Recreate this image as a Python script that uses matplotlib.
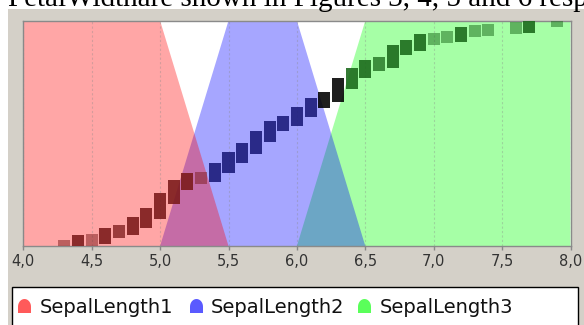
import numpy as np
import matplotlib
matplotlib.use("Agg")
import matplotlib.pyplot as plt
from matplotlib.patches import Rectangle, Polygon
from matplotlib.colors import to_rgba
from matplotlib.ticker import FuncFormatter

# Distinct sepal length values and how many samples share each value
sepal_values = [4.3, 4.4, 4.5, 4.6, 4.7, 4.8, 4.9, 5.0, 5.1, 5.2, 5.3,
                5.4, 5.5, 5.6, 5.7, 5.8, 5.9, 6.0, 6.1,
                6.2, 6.3,
                6.4, 6.5, 6.6, 6.7, 6.8, 6.9, 7.0, 7.1, 7.2, 7.3, 7.4, 7.6, 7.7, 7.9]
sepal_counts = [1, 3, 1, 4, 2, 5, 6, 10, 9, 4, 1,
                6, 7, 6, 8, 7, 3, 6, 6,
                4, 9,
                7, 5, 2, 8, 3, 4, 1, 1, 3, 1, 1, 1, 4, 1]
# Class shown for each distinct value: 0 = set 1, 1 = set 2, 2 = set 3, 3 = boundary
value_class = [0] * 11 + [1] * 8 + [3] * 2 + [2] * 14

# Fuzzy set shapes (trapezoid breakpoints) for the three linguistic terms
set_names = ["SepalLength1", "SepalLength2", "SepalLength3"]
set_x = [[4.0, 4.0, 5.0, 5.5],
         [5.0, 5.5, 6.0, 6.5],
         [6.0, 6.5, 8.0, 8.0]]
set_y = [[0.0, 1.0, 1.0, 0.0],
         [0.0, 1.0, 1.0, 0.0],
         [0.0, 1.0, 1.0, 0.0]]

x_ticks = [4.0, 4.5, 5.0, 5.5, 6.0, 6.5, 7.0, 7.5, 8.0]

fill_colors = ["#ff0000", "#0000ff", "#00ff00"]
legend_colors = ["#ff5a5a", "#5a5aff", "#5aff5a"]
# indexed by value_class: set 1, set 2, set 3, boundary
point_colors = ["#7a1919", "#191978", "#196819", "#000000"]

W, H = 584, 325
fig = plt.figure(figsize=(W / 100, H / 100), dpi=100)
fig.patch.set_facecolor("white")


def fx(px):
    return px / W


def fy(py):
    return 1 - py / H


# panel background
fig.patches.append(Rectangle((fx(8), 0), 1 - fx(8), fy(9), transform=fig.transFigure,
                             facecolor="#d4d0c8", edgecolor="none", zorder=-5))

# text line above the panel
fig.text(fx(8), fy(5.5), "PetalWidthare shown in Figures 3, 4, 5 and 6 resp",
         fontfamily="Liberation Serif", fontsize=21, va="baseline", ha="left",
         color="black")

left, right, top, bottom = 23.3, 570.5, 20.7, 246
ax = fig.add_axes([fx(left), fy(bottom), fx(right) - fx(left), fy(top) - fy(bottom)])
ax.set_zorder(1)
ax.set_facecolor("white")
ax.set_xlim(4.0, 8.0)
ax.set_ylim(0.0, 1.0)

# fill the membership functions (green first, red last)
for i in [2, 1, 0]:
    ax.fill(set_x[i], set_y[i], color=fill_colors[i], alpha=0.35, lw=0, zorder=1)

ax.set_xticks(x_ticks)
ax.xaxis.set_major_formatter(FuncFormatter(lambda v, p: f"{v:.1f}".replace(".", ",")))
ax.grid(axis="x", color="#888888", alpha=0.35, linestyle=(0, (2, 2)), lw=0.8, zorder=2)
ax.set_axisbelow(False)
ax.set_yticks([])
ax.tick_params(axis="x", length=3, width=1, color="#888888", labelsize=10.5,
               labelcolor="#333333", pad=3)
for s in ax.spines.values():
    s.set_color("#8a8a8a")
    s.set_linewidth(1)

# samples sorted by value: each value becomes a block spanning its ranks
n_total = sum(sepal_counts)
marker_w = 0.088                      # block width in data units
marker_h = 12 / (bottom - top)        # block height of a single sample (axes fraction)
lows, heights, colors = [], [], []
rank = 0
for v, c, k in zip(sepal_values, sepal_counts, value_class):
    y0 = rank / (n_total - 1)
    y1 = (rank + c - 1) / (n_total - 1)
    lows.append(y0 - marker_h / 2)
    heights.append(y1 - y0 + marker_h)
    colors.append(to_rgba(point_colors[k], min(0.88, 1 - 0.5 ** c)))
    rank += c
ax.bar(sepal_values, heights, bottom=lows, width=marker_w, color=colors,
       linewidth=0, zorder=3)

# legend box
fig.patches.append(Rectangle((fx(12), fy(340)), fx(578) - fx(12), fy(287) - fy(340),
                             transform=fig.transFigure, facecolor="white",
                             edgecolor="black", lw=1, zorder=1))


def tombstone(x0, yb, w=13, h=14):
    pts = [(x0, yb), (x0 + w, yb), (x0 + w, yb - h * 0.45)]
    r_y = h * 0.55
    for t in np.linspace(0, np.pi, 20):
        pts.append((x0 + w / 2 + (w / 2) * np.cos(t), yb - h * 0.45 - r_y * np.sin(t)))
    pts.append((x0, yb - h * 0.45))
    return [(fx(a), fy(b)) for a, b in pts]


icon_x = [18, 190, 358]
text_x = [40, 211, 380]
for i in range(3):
    fig.patches.append(Polygon(tombstone(icon_x[i], 313), closed=True,
                               transform=fig.transFigure, facecolor=legend_colors[i],
                               edgecolor="none", zorder=2))
    fig.text(fx(text_x[i]), fy(313), set_names[i], fontsize=14, va="baseline",
             ha="left", color="#111111", zorder=3)

fig.savefig("out.png", dpi=100)
